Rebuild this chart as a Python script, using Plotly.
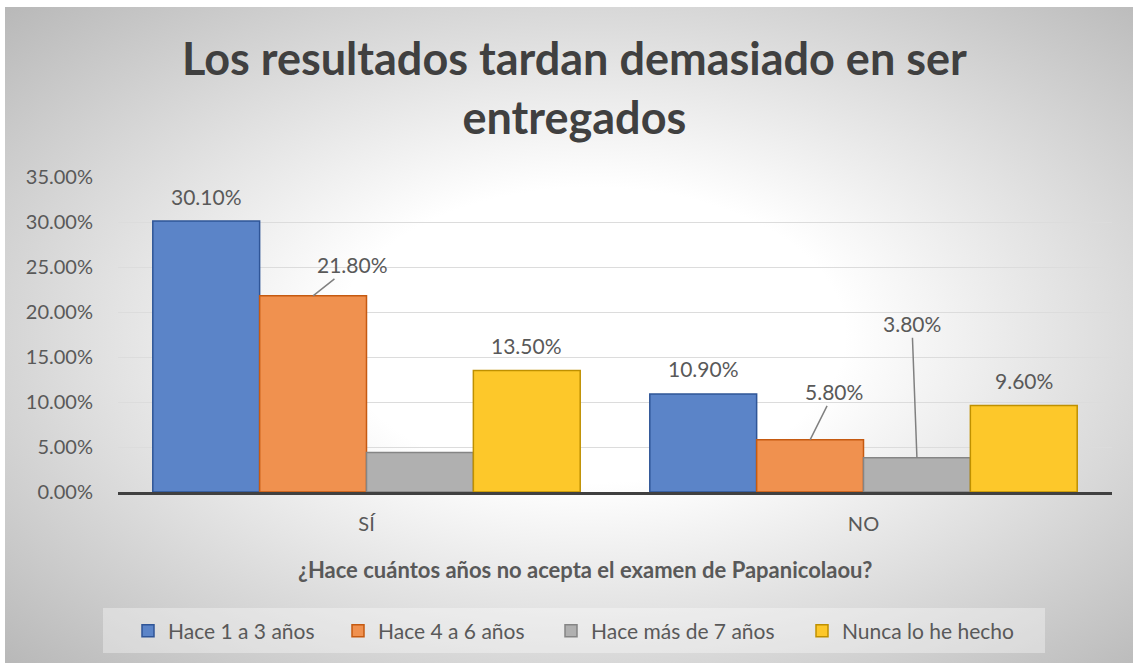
import base64
import plotly.graph_objects as go

# data (percent)
categories = ["SÍ", "NO"]
series_names = ["Hace 1 a 3 años", "Hace 4 a 6 años", "Hace más de 7 años", "Nunca lo he hecho"]
hace_1_3 = [30.1, 10.9]
hace_4_6 = [21.8, 5.8]
hace_mas_7 = [4.4, 3.8]
nunca = [13.5, 9.6]
y_ticks = [0, 5, 10, 15, 20, 25, 30, 35]

series_values = [hace_1_3, hace_4_6, hace_mas_7, nunca]

fills = ["#5b84c8", "#f0914f", "#b0b0b0", "#fdc82a"]
edges = ["#2f5597", "#c55a11", "#858585", "#bf9000"]

W, H = 1137, 666
ML, MR, MT, MB = 118, 25, 177, 174
PW, PH = W - ML - MR, H - MT - MB
FONT = "Lato"
TXT = "#595959"


def px_x(px):
    return (px - ML) / PW


def px_y(py):
    return (H - MB - py) / PH


fig = go.Figure()

legend_ids = ["legend", "legend2", "legend3", "legend4"]
for i, (name, vals) in enumerate(zip(series_names, series_values)):
    fig.add_trace(go.Bar(
        x=categories, y=vals, name=name,
        marker=dict(color=fills[i], line=dict(color=edges[i], width=1.5)),
        legend=legend_ids[i],
        hoverinfo="skip",
    ))

# data labels (Excel hides the label of the small gray SÍ bar)
bargap = 0.14
n = len(series_names)
w = (1 - bargap) / n
leaders = {(1, 0): (39, -31), (1, 1): (24, -48), (2, 1): (-5, -134)}
for i, vals in enumerate(series_values):
    off = -(1 - bargap) / 2 + w * (i + 0.5)
    for j, v in enumerate(vals):
        if (i, j) == (2, 0):
            continue
        txt = f"{v:.2f}%"
        if (i, j) in leaders:
            ax, ay = leaders[(i, j)]
            fig.add_annotation(x=j + off, y=v, text=txt, showarrow=True, arrowhead=0,
                               arrowwidth=1.5, arrowcolor="#808080", ax=ax, ay=ay,
                               font=dict(family=FONT, size=21, color=TXT))
        else:
            fig.add_annotation(x=j + off, y=v, text=txt, showarrow=False, yshift=25,
                               yanchor="middle", font=dict(family=FONT, size=21, color=TXT))

# chart title
fig.add_annotation(xref="paper", yref="paper", x=px_x(574), y=px_y(88),
                   text="<b>Los resultados tardan demasiado en ser<br>entregados</b>",
                   showarrow=False, yanchor="middle",
                   font=dict(family=FONT, size=45, color="#404040"))

# axis title
fig.add_annotation(xref="paper", yref="paper", x=px_x(585), y=px_y(585),
                   text="<b>¿Hace cuántos años no acepta el examen de Papanicolaou?</b>",
                   showarrow=False, font=dict(family=FONT, size=22, color=TXT))

# radial background
svg = ('<svg xmlns="http://www.w3.org/2000/svg" width="1128" height="656" '
       'viewBox="0 0 1128 656" preserveAspectRatio="none"><defs>'
       '<radialGradient id="g" cx="0.52" cy="0.5" r="0.75">'
       '<stop offset="0" stop-color="#ffffff"/><stop offset="0.3" stop-color="#ffffff"/>'
       '<stop offset="1" stop-color="#b4b4b4"/></radialGradient></defs>'
       '<rect width="1128" height="656" fill="url(#g)"/></svg>')
src = "data:image/svg+xml;base64," + base64.b64encode(svg.encode()).decode()
fig.add_layout_image(source=src, xref="paper", yref="paper", x=px_x(5), y=px_y(7),
                     sizex=1128 / PW, sizey=656 / PH, sizing="stretch",
                     xanchor="left", yanchor="top", layer="below")

# legend box
fig.add_shape(type="rect", xref="paper", yref="paper", x0=px_x(103), x1=px_x(1045),
              y0=px_y(653), y1=px_y(608), fillcolor="rgba(255,255,255,0.35)",
              line_width=0, layer="below")

legend_px = [143, 353, 566, 817]
legend_layout = {}
for lid, lx in zip(legend_ids, legend_px):
    legend_layout[lid] = dict(orientation="h", x=px_x(lx - 15), y=px_y(631),
                              xanchor="left", yanchor="middle", bgcolor="rgba(0,0,0,0)",
                              font=dict(family=FONT, size=21, color=TXT))

fig.update_layout(
    width=W, height=H,
    margin=dict(l=ML, r=MR, t=MT, b=MB),
    paper_bgcolor="white", plot_bgcolor="rgba(0,0,0,0)",
    barmode="group", bargap=bargap, bargroupgap=0,
    showlegend=True,
    **legend_layout,
)
fig.update_xaxes(showline=True, linecolor="#404040", linewidth=3, ticks="outside",
                 ticklen=12, tickcolor="rgba(0,0,0,0)",
                 tickfont=dict(family=FONT, size=20, color=TXT))
fig.update_yaxes(range=[0, 35], tickvals=y_ticks, ticktext=[f"{t:.2f}%" for t in y_ticks],
                 showgrid=True, gridcolor="#dcdcdc", gridwidth=1, zeroline=False,
                 ticks="outside", ticklen=20, tickcolor="rgba(0,0,0,0)",
                 tickfont=dict(family=FONT, size=20, color=TXT))

fig.write_html("out.html", config={"displayModeBar": False},
               post_script="document.body.style.margin='0';")
